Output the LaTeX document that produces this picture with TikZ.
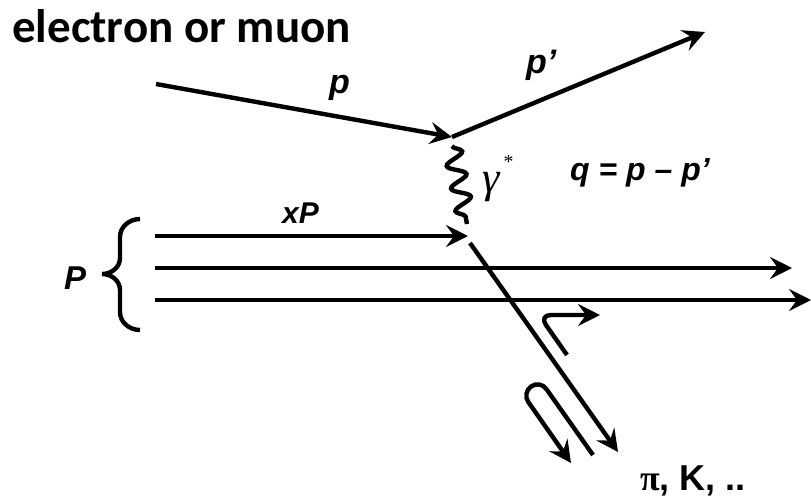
\documentclass[tikz,border=0pt]{standalone}
\usepackage{fontspec}
\setmainfont{Liberation Sans}
\newfontfamily\headfont{Carlito}
\newfontfamily\greekfont{Liberation Serif}
\usetikzlibrary{arrows.meta,decorations.pathmorphing}

\tikzset{
  line/.style={line width=4.4pt},
  arr/.style={line, -{Stealth[length=22pt,width=22pt,inset=8pt]}},
  lbl/.style={font=\fontsize{34}{36}\selectfont\bfseries\itshape,
              inner sep=0pt, anchor=base west},
}

\begin{document}
\begin{tikzpicture}[x=1pt, y=-1pt]
  \useasboundingbox (0,0) rectangle (811,501);
  % --- lepton line -------------------------------------------------------
  \node[font=\fontsize{47}{50}\selectfont\headfont\bfseries,
        inner sep=0pt, anchor=base west] (lepton) at (12,42) {electron or muon};
  \coordinate (lin)  at (156,84);
  \coordinate (v1)   at (452,137);
  \coordinate (lout) at (705,32);
  \draw[arr] (lin) -- (v1);
  \draw[arr] (v1) -- (lout);
  \node[lbl] (pin)  at (329,93) {p};
  \node[lbl] (pout) at (526,73) {p’};
  % --- virtual photon ----------------------------------------------------
  \coordinate (gtop) at (452,146);
  \coordinate (gbot) at (467,224);
  \draw[line, decorate,
        decoration={snake, segment length=23pt, amplitude=9pt}] (gtop) -- (gbot);
  \node[font=\fontsize{44}{46}\selectfont\greekfont\itshape,
        inner sep=0pt, anchor=base west] (gam) at (482,192)
        {γ\kern3pt\raisebox{24pt}{\fontsize{20}{20}\selectfont *}};
  \node[lbl, font=\fontsize{32}{34}\selectfont\bfseries\itshape] (qdef) at (570,180)
        {q = p – p’};
  % --- proton and partons ------------------------------------------------
  \coordinate (a0) at (155,236);
  \coordinate (v2) at (468,236);
  \coordinate (b0) at (155,268);
  \coordinate (b1) at (792,268);
  \coordinate (c0) at (155,300);
  \coordinate (c1) at (811,300);
  \draw[arr] (a0) -- (v2);
  \draw[arr] (b0) -- (b1);
  \draw[arr] (c0) -- (c1);
  \node[lbl, font=\fontsize{30}{32}\selectfont\bfseries\itshape] (xp) at (282,223) {xP};
  \draw[line] (140,219) to[out=180,in=90] (120,237) -- (120,258)
        to[out=-90,in=0] (102,274) to[out=0,in=90] (120,290) -- (120,312)
        to[out=-90,in=180] (140,330);
  \node[lbl, font=\fontsize{33}{35}\selectfont\bfseries\itshape] (prot) at (64,289) {P};
  % --- struck quark and fragmentation ------------------------------------
  \coordinate (qs) at (470,243);
  \coordinate (qe) at (618,452);
  \draw[arr] (qs) -- (qe);
  \coordinate (h1) at (567,355);
  \coordinate (h2) at (539,315);
  \coordinate (h3) at (600,315);
  \draw[arr, rounded corners=12pt] (h1) -- (h2) -- (h3);
  \coordinate (u1) at (593,455);
  \coordinate (u2) at (540,380);
  \coordinate (u3) at (522,393);
  \coordinate (u4) at (571,463);
  \draw[arr, rounded corners=11pt] (u1) -- (u2) -- (u3) -- (u4);
  \node[font=\fontsize{36}{38}\selectfont\bfseries, inner sep=0pt,
        anchor=base west] (hadrons) at (640,490) {{\greekfont π}, K, ..};
\end{tikzpicture}
\end{document}
